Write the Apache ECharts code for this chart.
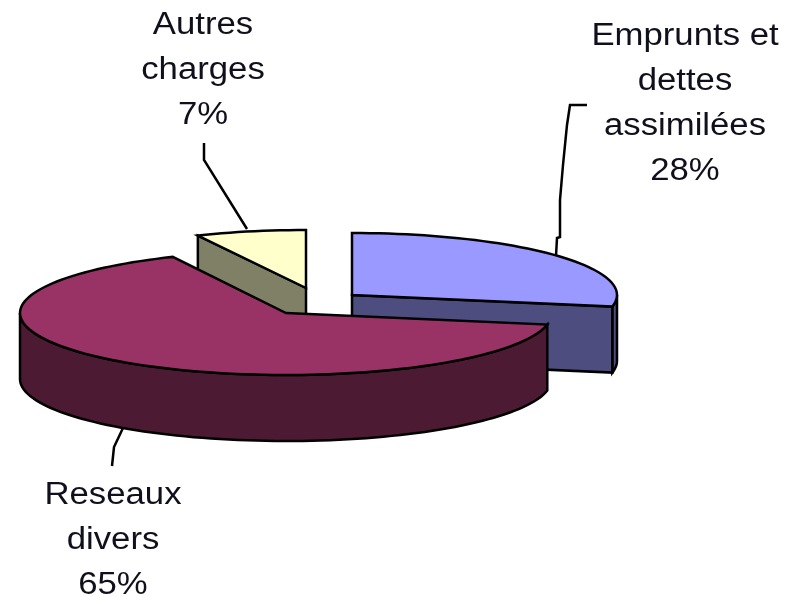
<!DOCTYPE html>
<html><head><meta charset="utf-8">
<style>html,body{margin:0;padding:0;background:#fff}#c{width:786px;height:597px}</style>
<script src="https://cdn.jsdelivr.net/npm/echarts@6/dist/echarts.min.js"></script>
</head><body><div id="c"></div>
<script>
const categories = ['Emprunts et\ndettes\nassimilées', 'Reseaux\ndivers', 'Autres\ncharges'];
const values = [28, 65, 7];

const topColors = ['#9999ff', '#993366', '#ffffcc'];
const wallColors = ['#4d4d80', '#4d1a33', '#808066'];
const centers = [[352, 295], [286, 313], [306, 288]];
const radii = [[265, 62], [266, 62], [254, 58]];
const layerZ = [2, 3, 1];
const depth = 66;
const labelAnchors = [[685, 14], [113, 473], [203, 3]];
const leaders = [
  [[587, 105], [570, 105], [567, 125], [563, 165], [560, 200], [560, 237], [557, 238], [556, 256]],
  [[123, 428], [114, 447], [112, 466]],
  [[204, 143], [204, 160], [247, 229]]
];
const total = values.reduce((a, b) => a + b, 0);

function ellipsePoint(i, deg, dy) {
  const r = deg * Math.PI / 180;
  return [centers[i][0] + radii[i][0] * Math.sin(r), centers[i][1] - radii[i][1] * Math.cos(r) + (dy || 0)];
}
function arc(i, a, b, dy) {
  const pts = [], n = Math.max(2, Math.ceil(Math.abs(b - a) / 2));
  for (let k = 0; k <= n; k++) pts.push(ellipsePoint(i, a + (b - a) * k / n, dy));
  return pts;
}
const line = { stroke: '#000', lineWidth: 2.5, lineJoin: 'miter' };

function renderItem(params, api) {
  const i = params.dataIndex;
  let start = 0;
  for (let k = 0; k < i; k++) start += values[k];
  const a0 = start / total * 360, a1 = (start + api.value(0)) / total * 360;
  const z = layerZ[i] * 10, kids = [];
  const style = c => Object.assign({ fill: c }, line);
  const w0 = Math.max(a0, 90), w1 = Math.min(a1, 270);
  if (w1 > w0) {
    const front = arc(i, w0, w1, 0), back = arc(i, w1, w0, depth);
    kids.push({ type: 'polygon', z2: z, shape: { points: front.concat(back) }, style: style(wallColors[i]) });
  }
  const c = centers[i];
  if (i === 0) {
    const e = ellipsePoint(i, a1);
    kids.push({ type: 'polygon', z2: z + 1, shape: { points: [c, e, [e[0], e[1] + depth], [c[0], c[1] + depth]] }, style: style(wallColors[i]) });
  }
  if (i === 2) {
    const e = ellipsePoint(i, a0);
    kids.push({ type: 'polygon', z2: z + 1, shape: { points: [e, c, [c[0], c[1] + depth], [e[0], e[1] + depth]] }, style: style(wallColors[i]) });
  }
  kids.push({ type: 'polygon', z2: z + 2, shape: { points: [c].concat(arc(i, a0, a1, 0)) }, style: style(topColors[i]) });
  kids.push({ type: 'polyline', z2: 50, shape: { points: leaders[i] }, style: { stroke: '#000', lineWidth: 2.5, fill: null } });
  kids.push({
    type: 'text', z2: 60, x: labelAnchors[i][0], y: labelAnchors[i][1], scaleX: 1.12,
    style: {
      text: categories[i] + '\n' + api.value(0) + '%',
      fontFamily: '"Liberation Sans", Arial, sans-serif', fontSize: 31, lineHeight: 45,
      fill: '#10101c', align: 'center', verticalAlign: 'top'
    }
  });
  return { type: 'group', children: kids };
}

const chart = echarts.init(document.getElementById('c'), null, { renderer: 'canvas' });
chart.setOption({
  animation: false,
  backgroundColor: '#fff',
  series: [{
    type: 'custom',
    coordinateSystem: 'none',
    renderItem: renderItem,
    silent: true,
    data: values.map(v => [v])
  }]
});
</script></body></html>
